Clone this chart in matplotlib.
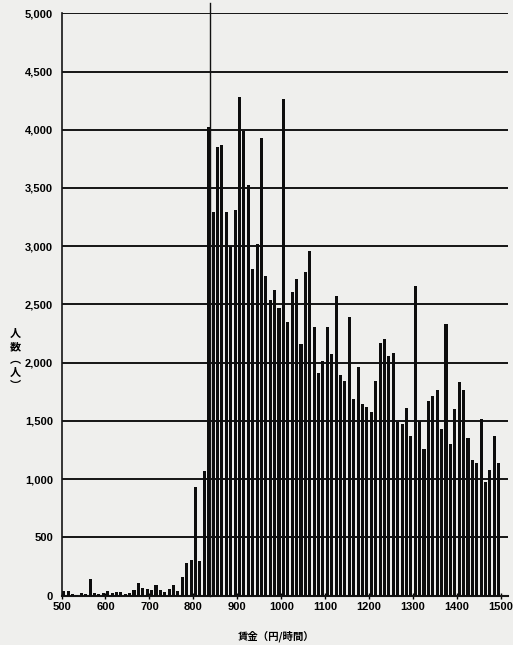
import matplotlib
matplotlib.use("Agg")
from matplotlib import pyplot as plt

# wage bins (yen/hour), 10-yen wide, lower edges 500..1490
bin_start = list(range(500, 1500, 10))
# number of people in each bin
counts = [
    40, 40, 15, 5, 20, 10, 145, 20, 15, 20,
    40, 20, 27, 27, 12, 20, 47, 104, 67, 56,
    45, 88, 45, 33, 58, 93, 35, 158, 276, 308,
    928, 295, 1068, 4025, 3297, 3850, 3865, 3297, 3000, 3315,
    4285, 3986, 3529, 2800, 3017, 3925, 2743, 2537, 2628, 2466,
    4262, 2350, 2608, 2722, 2157, 2776, 2960, 2305, 1912, 2010,
    2304, 2075, 2570, 1897, 1840, 2395, 1684, 1966, 1641, 1622,
    1574, 1846, 2168, 2207, 2054, 2086, 1491, 1477, 1608, 1371,
    2657, 1502, 1262, 1668, 1717, 1768, 1434, 2328, 1297, 1605,
    1831, 1762, 1353, 1168, 1134, 1514, 971, 1076, 1371, 1139,
]
min_wage = 837  # vertical reference line
x_ticks = list(range(500, 1600, 100))
y_ticks = list(range(0, 5500, 500))

bg = "#efefed"
latin = "Liberation Sans"
cjk = ["Noto Sans CJK JP", "DejaVu Sans"]

fig = plt.figure(figsize=(5.13, 6.45), dpi=100, facecolor=bg)
ax = fig.add_axes([0.1199, 0.0767, 0.8694, 0.9027], facecolor=bg)

centers = [b + 5 for b in bin_start]
ax.bar(centers, counts, width=7.0, color="#0d0d0d", zorder=3)

ax.set_xlim(500, 1515)
ax.set_ylim(0, 5000)
ax.set_xticks(x_ticks)
ax.set_xticklabels([str(t) for t in x_ticks])
ax.set_yticks(y_ticks)
ax.set_yticklabels([f"{t:,}" for t in y_ticks])

ax.grid(axis="y", color="#151515", linewidth=1.4, zorder=1)
ax.grid(axis="x", visible=False)
for side in ["top", "right"]:
    ax.spines[side].set_visible(False)
ax.spines["left"].set_color("#151515")
ax.spines["bottom"].set_color("#151515")
ax.spines["left"].set_linewidth(1.2)
ax.spines["bottom"].set_linewidth(1.5)

ax.tick_params(axis="y", length=0, pad=6)
ax.tick_params(axis="x", direction="inout", length=4, width=1, pad=3)
for lab in ax.get_xticklabels() + ax.get_yticklabels():
    lab.set_fontfamily(latin)
    lab.set_fontweight("bold")
    lab.set_fontsize(8)

# minimum wage line, reaching a bit above the plot
ax.plot([min_wage, min_wage], [0, 5090], color="#111111", linewidth=1.0,
        clip_on=False, zorder=4)

fig.text(0.029, 0.442, "人\n数\n︵\n人\n︶", family=cjk, fontsize=8,
         fontweight="bold", ha="center", va="center", linespacing=1.0)
fig.text(0.538, 0.013, "賃金（円/時間）", family=cjk, fontsize=7.5,
         fontweight="bold", ha="center", va="center")

fig.savefig("out.png", dpi=100, facecolor=bg)
